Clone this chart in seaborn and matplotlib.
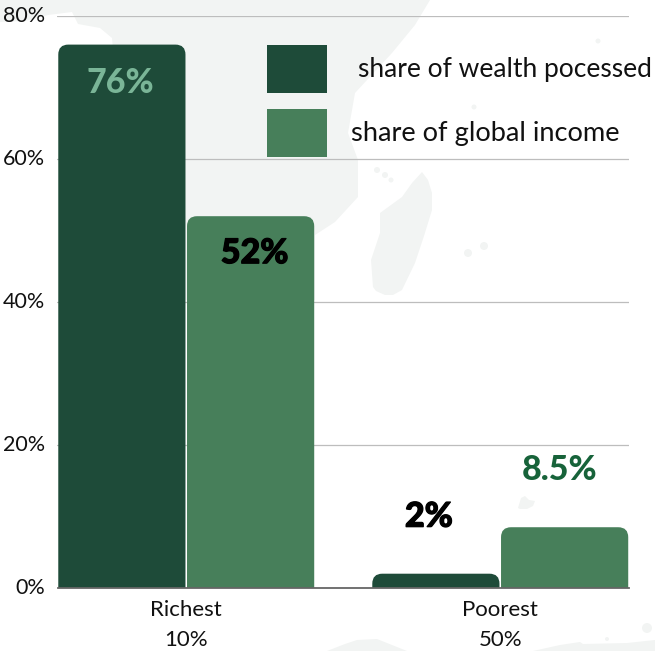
import numpy as np
import pandas as pd
import matplotlib
matplotlib.use("Agg")
import matplotlib.pyplot as plt
import matplotlib.patheffects as pe
from matplotlib.patches import PathPatch, Polygon, Rectangle, Circle
from matplotlib.path import Path
from matplotlib.transforms import ScaledTranslation
import seaborn as sns

groups = ["Richest\n10%", "Poorest\n50%"]
wealth = [76, 2]
income = [52, 8.5]
series_names = ["share of wealth pocessed", "share of global income"]
value_labels = ["76%", "2%", "52%", "8.5%"]
label_colors = ["#7ab597", "#000000", "#000000", "#17633a"]
y_ticks = [0, 20, 40, 60, 80]
colors = ["#1e4b39", "#477f5a"]

W, H = 655, 651
sns.set_theme(style="white")
plt.rcParams["font.family"] = ["Lato", "DejaVu Sans"]

fig = plt.figure(figsize=(W / 100, H / 100), dpi=100, facecolor="white")
ax = fig.add_axes([57.5 / W, 1 - 588 / H, (629 - 57.5) / W, (588 - 16) / H])
ax.patch.set_alpha(0)


def px(points):
    return [(x / W, 1 - y / H) for x, y in points]


# Pale map silhouette sitting behind the chart
land = "#f2f4f3"
mainland = [(0, 22), (25, 21), (48, 15), (72, 12), (78, 24), (100, 28), (112, 38), (114, 60), (114, 300),
            (315, 300), (315, 235), (335, 222), (358, 197), (358, 160), (348, 133),
            (355, 93), (392, 53), (415, 25), (430, 0), (0, 0)]
madagascar = [(422, 172), (428, 180), (432, 193), (432, 210), (424, 236), (415, 263), (402, 290), (393, 295), (385, 295),
              (376, 291), (373, 287), (371, 260), (380, 233), (380, 213), (402, 197), (412, 183)]
west_hump = [(327, 651), (345, 644), (357, 640), (377, 639), (397, 647), (407, 651)]
east_coast = [(533, 651), (560, 645), (580, 642), (583, 644), (627, 643), (655, 640), (655, 651)]
islet = [(518, 508), (521, 498), (525, 496), (529, 500), (535, 501), (533, 506), (527, 509), (520, 509)]
for shape in (mainland, madagascar, west_hump, east_coast, islet):
    fig.add_artist(Polygon(px(shape), closed=True, facecolor=land, edgecolor="none",
                           transform=fig.transFigure, zorder=-5))
for cx, cy, r in [(377, 170, 3), (385, 175, 3), (391, 180, 2.5), (468, 253, 4), (484, 246, 4),
                  (598, 41, 2.5), (474, 107, 2.5), (647, 628, 5), (607, 639, 2)]:
    fig.add_artist(Circle((cx / W, 1 - cy / H), r / W, facecolor=land, edgecolor="none",
                          transform=fig.transFigure, zorder=-5))

df = pd.DataFrame({
    "group": groups * 2,
    "share": wealth + income,
    "series": [series_names[0]] * 2 + [series_names[1]] * 2,
})
sns.barplot(data=df, x="group", y="share", hue="series", hue_order=series_names,
            palette=colors, width=0.82, gap=0.012, saturation=1, legend=False, ax=ax, zorder=3)

ax.set_xlim(-0.41, 1.41)
ax.set_ylim(0, 80)
ax.set_xlabel("")
ax.set_ylabel("")


def rounded_top(bar, radius_px=10):
    # Swap a square bar for one with rounded upper corners
    x0, w, h = bar.get_x(), bar.get_width(), bar.get_height()
    x1 = x0 + w
    sx = ax.get_xlim()[1] - ax.get_xlim()[0]
    rx = radius_px * sx / (629 - 57.5)
    ry = min(radius_px * 80 / (588 - 16), h)
    verts = [(x0, 0), (x0, h - ry), (x0, h), (x0 + rx, h), (x1 - rx, h), (x1, h), (x1, h - ry), (x1, 0), (x0, 0)]
    codes = [Path.MOVETO, Path.LINETO, Path.CURVE3, Path.CURVE3, Path.LINETO,
             Path.CURVE3, Path.CURVE3, Path.LINETO, Path.CLOSEPOLY]
    return PathPatch(Path(verts, codes), facecolor=bar.get_facecolor(), edgecolor="none", zorder=3)


bars = list(ax.patches)
for bar in bars:
    ax.add_patch(rounded_top(bar))
    bar.set_visible(False)

# Offsets in pixels from the top centre of each bar; black labels get a heavier outline
label_offsets = {"76%": (-2, -38), "52%": (4, -37), "2%": (-7, 57), "8.5%": (-5, 57)}
for bar, text, color in zip(bars, value_labels, label_colors):
    dx, dy = label_offsets[text]
    label = ax.annotate(text, (bar.get_x() + bar.get_width() / 2, bar.get_height()),
                        xytext=(dx * 0.72, dy * 0.72), textcoords="offset points",
                        ha="center", va="center", fontsize=24.5, fontweight="black",
                        color=color, zorder=5)
    if color == "#000000":
        label.set_path_effects([pe.withStroke(linewidth=0.9, foreground=color)])

ax.set_yticks(y_ticks, [f"{v}%" for v in y_ticks])
ax.grid(axis="y", color="#bdbdbd", linewidth=0.9, zorder=1)
ax.set_axisbelow(True)
sns.despine(ax=ax, left=True, top=True, right=True)
ax.spines["bottom"].set_color("#666666")
ax.spines["bottom"].set_linewidth(1.3)
ax.spines["bottom"].set_zorder(4)
ax.tick_params(axis="both", length=0)
ax.tick_params(axis="y", labelsize=15.5, labelcolor="#111111", pad=8)
ax.tick_params(axis="x", labelsize=16, labelcolor="#111111", pad=9)
for t in ax.get_xticklabels():
    t.set_linespacing(1.62)
lift = ScaledTranslation(-1 / 72, 1.4 / 72, fig.dpi_scale_trans)
for t in ax.get_yticklabels():
    t.set_transform(t.get_transform() + lift)

# Legend keys and their captions
for top, color in zip((45, 109), colors):
    fig.add_artist(Rectangle((267 / W, 1 - (top + 48) / H), 60 / W, 48 / H, facecolor=color,
                             edgecolor="none", transform=fig.transFigure, zorder=6))
fig.text(358 / W, 1 - 69 / H, series_names[0], fontsize=19, color="#111111", va="center", ha="left", zorder=6)
fig.text(351 / W, 1 - 133 / H, series_names[1], fontsize=19.6, color="#111111", va="center", ha="left", zorder=6)

fig.savefig("out.png", dpi=100, facecolor="white")
